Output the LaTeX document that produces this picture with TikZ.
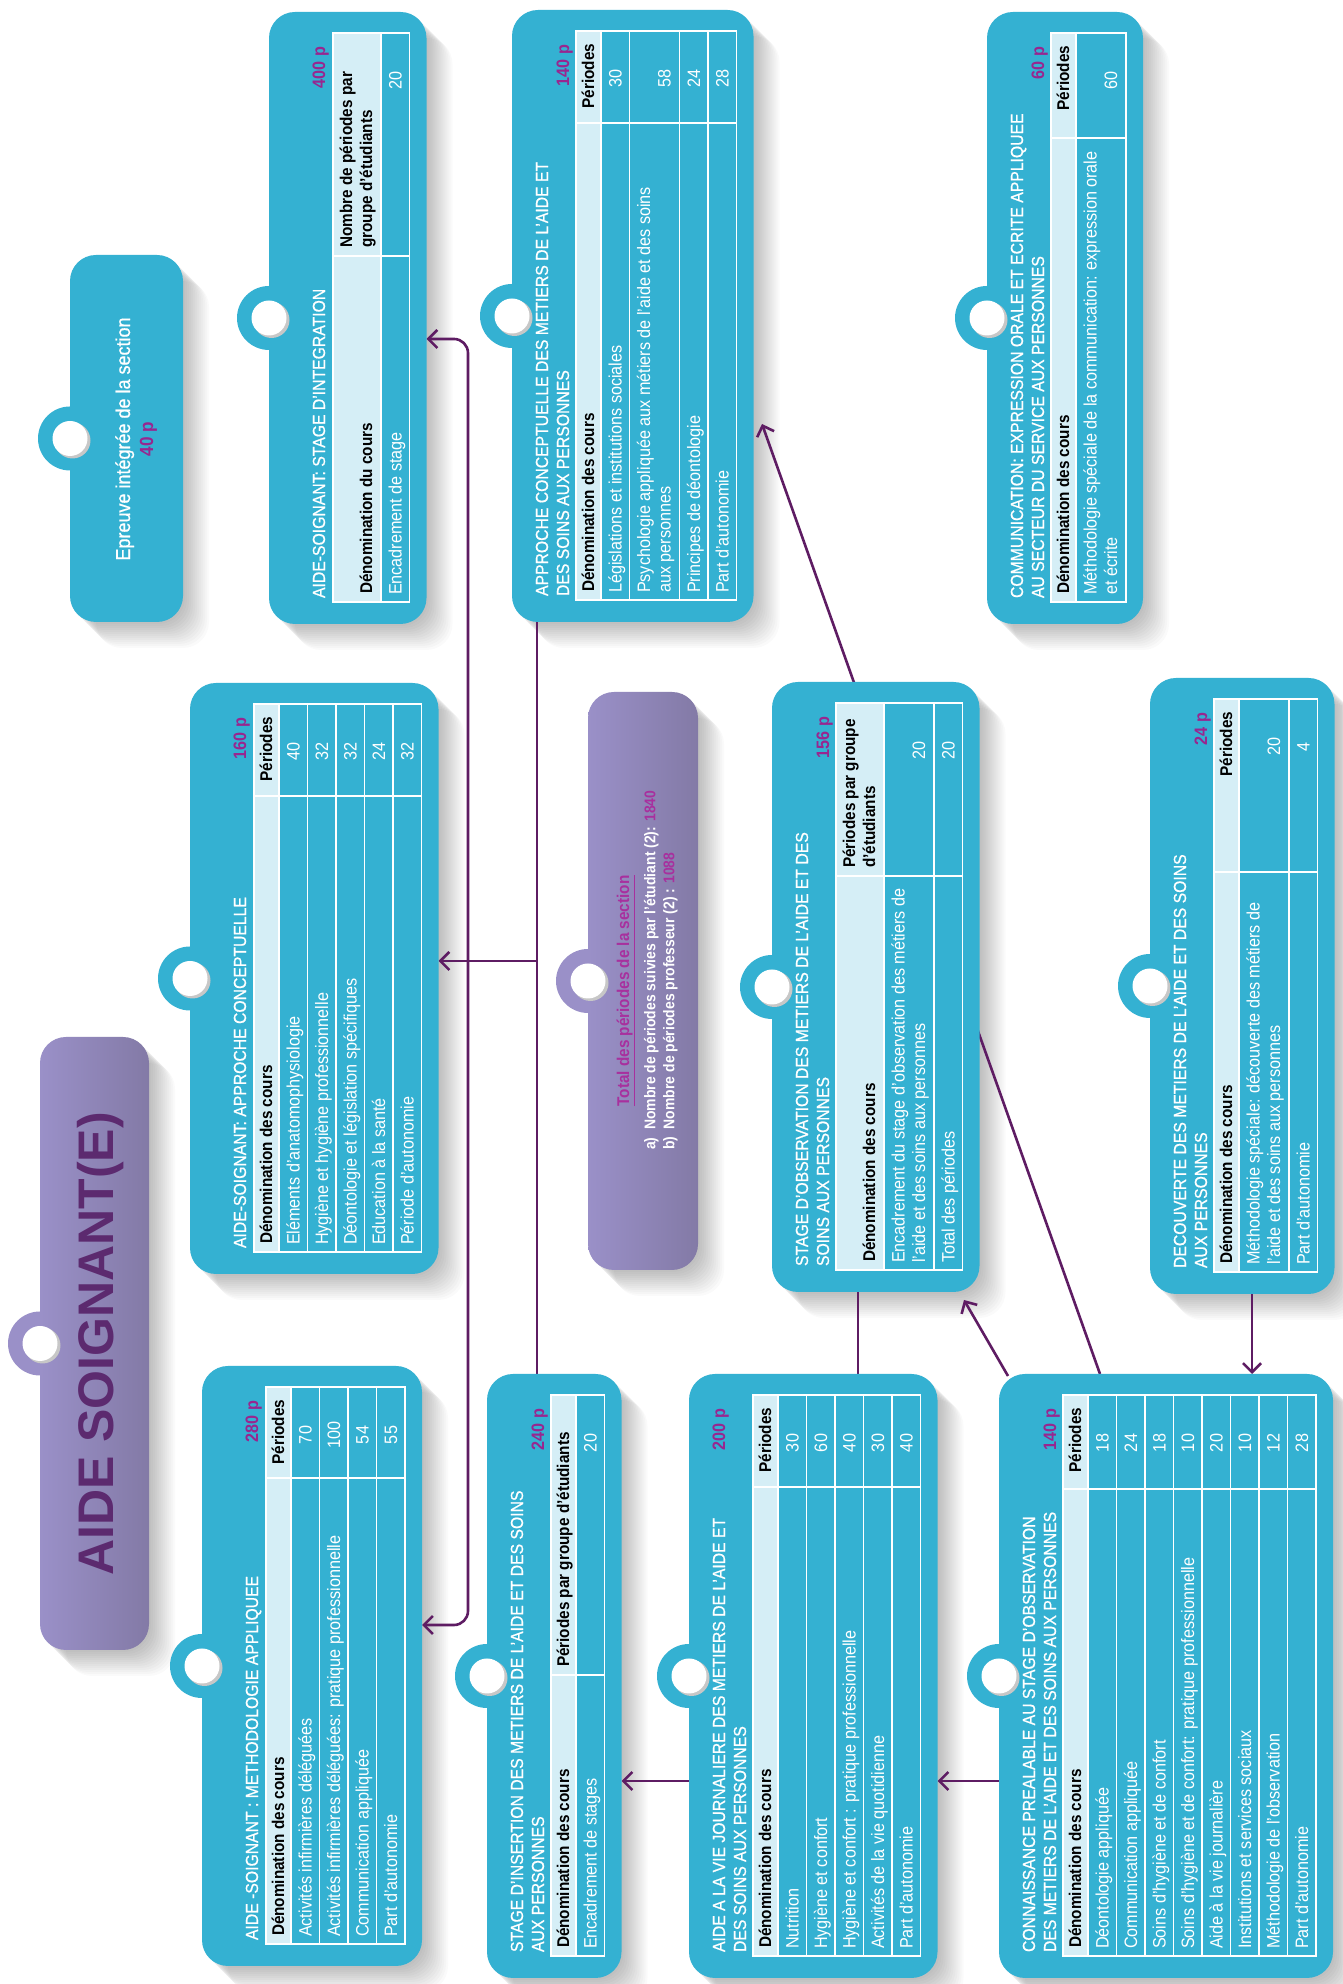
\documentclass[tikz,border=0pt]{standalone}
\usepackage{fontspec}
\setmainfont{Liberation Sans}[FakeStretch=0.9]
\newfontfamily\ttlfont{Liberation Sans}[FakeStretch=0.9,FakeBold=0.6]
\newfontfamily\bigfont{Liberation Sans}
\usetikzlibrary{arrows.meta}
\pgfdeclarelayer{bgwhite}
\pgfdeclarelayer{shadowl}
\pgfdeclarelayer{connl}
\pgfsetlayers{bgwhite,shadowl,connl,main}
\definecolor{cardc}{HTML}{34B1D2}
\definecolor{headc}{HTML}{D5EEF6}
\definecolor{linec}{HTML}{5E1C63}
\definecolor{magc}{HTML}{98268F}
\definecolor{totmag}{HTML}{A8309E}
\definecolor{ttlc}{HTML}{5C2A6F}
\definecolor{lavA}{HTML}{9A90C8}
\definecolor{lavB}{HTML}{837AA6}
\tikzset{
  ttl/.style={font=\ttlfont\fontsize{17.5}{22}\selectfont,text=white,inner sep=0pt,outer sep=0pt},
  bodytxt/.style={font=\fontsize{18}{20}\selectfont,text=white,inner sep=0pt,outer sep=0pt},
  hdrtxt/.style={font=\bfseries\fontsize{17}{20}\selectfont,text=black,inner sep=0pt,outer sep=0pt},
  plab/.style={font=\bfseries\fontsize{18}{20}\selectfont,text=magc,inner sep=0pt,outer sep=0pt},
  totxt/.style={font=\bfseries\fontsize{15.5}{19}\selectfont,text=white,inner sep=0pt,outer sep=0pt},
  gridline/.style={draw=white,line width=1.2pt},
  cline/.style={draw=linec,line width=2.6pt},
  barb/.tip={Straight Barb[length=9pt,width=18pt]},
}
\newcommand\mkCard[7]{%
  \begin{pgfonlayer}{shadowl}%
    \foreach \d in {2,4,...,26}{\fill[black,opacity=0.02,rounded corners=26pt] (#2-\d,#3+\d) rectangle (#4-\d,#5+\d);}%
  \end{pgfonlayer}%
  \pgfmathsetmacro\mx{(#2+#4)/2}%
  \fill[#7] (\mx,#3) circle (32);%
  \node[#6,rounded corners=26pt,minimum width={(#4-#2)*1pt},minimum height={(#5-#3)*1pt},inner sep=0pt,outer sep=0pt] (#1) at ({(#2+#4)/2},{(#3+#5)/2}) {};%
  \fill[black!22] (\mx-2,#3+2.5) circle (18);%
  \fill[white] (\mx,#3) circle (17.5);%
}
\newcommand\TabStart[4]{%
  \pgfmathsetmacro\TL{#1+22}\pgfmathsetmacro\TR{#2-21}\pgfmathsetmacro\TC{#2-21-#4}\pgfmathsetmacro\Ty{#3+64}\let\Ttop\Ty}
\newcommand\Ttl[3]{\node[ttl,anchor=base west] (#1) at (\TL+4,#2) {#3};}
\newcommand\Plab[3]{\node[plab,anchor=base east] (#1) at (\TR-14,#2) {#3};}
\newcommand\HdrP[3]{%
  \fill[headc] (\TL,\Ty) rectangle (\TR,\Ty+25);
  \node[hdrtxt,anchor=base west] (#1-ha) at (\TL+8,\Ty+18) {#2};
  \node[hdrtxt,anchor=base] (#1-hb) at (\TR-45,\Ty+18) {#3};
  \pgfmathsetmacro\Ty{\Ty+25}\draw[gridline] (\TL,\Ty) -- (\TR,\Ty);}
\newcommand\HdrW[3]{%
  \fill[headc] (\TL,\Ty) rectangle (\TR,\Ty+25);
  \node[hdrtxt,anchor=base west] (#1-ha) at (\TL+8,\Ty+18) {#2};
  \node[hdrtxt,anchor=base west] (#1-hb) at (\TC+8,\Ty+18) {#3};
  \pgfmathsetmacro\Ty{\Ty+25}\draw[gridline] (\TL,\Ty) -- (\TR,\Ty);}
\newcommand\HdrD[4]{%
  \fill[headc] (\TL,\Ty) rectangle (\TR,\Ty+48);
  \node[hdrtxt,anchor=base west] (#1-ha) at (\TL+8,\Ty+39) {#2};
  \node[hdrtxt,anchor=base west] (#1-hb) at (\TC+8,\Ty+19) {#3};
  \node[hdrtxt,anchor=base west] (#1-hc) at (\TC+8,\Ty+39) {#4};
  \pgfmathsetmacro\Ty{\Ty+48}\draw[gridline] (\TL,\Ty) -- (\TR,\Ty);}
\newcommand\RowS[3]{%
  \node[bodytxt,anchor=base west] (#1-a) at (\TL+7,\Ty+20.5) {#2};
  \node[bodytxt,anchor=base] (#1-b) at (\TR-48,\Ty+20.5) {#3};
  \pgfmathsetmacro\Ty{\Ty+28.5}\draw[gridline] (\TL,\Ty) -- (\TR,\Ty);}
\newcommand\RowD[4]{%
  \node[bodytxt,anchor=base west] (#1-a) at (\TL+7,\Ty+20.5) {#2};
  \node[bodytxt,anchor=base west] (#1-c) at (\TL+7,\Ty+41) {#3};
  \node[bodytxt,anchor=base] (#1-b) at (\TR-48,\Ty+41) {#4};
  \pgfmathsetmacro\Ty{\Ty+50}\draw[gridline] (\TL,\Ty) -- (\TR,\Ty);}
\newcommand\TabEnd{\draw[gridline] (\TL,\Ttop) rectangle (\TR,\Ty); \draw[gridline] (\TC,\Ttop) -- (\TC,\Ty);}
\begin{document}
\begin{tikzpicture}
\begin{scope}[x=1pt,y=-1pt,rotate=90,transform shape]
\useasboundingbox (0,0) rectangle (1984,1342);
\begin{pgfonlayer}{bgwhite}\fill[white] (0,0) rectangle (1984,1342);\end{pgfonlayer}

% title
\mkCard{ttlbox}{334}{40}{947}{149}{left color=lavA,right color=lavB}{lavA}
\node[font=\bigfont\bfseries\fontsize{50}{50}\selectfont,text=ttlc,anchor=base,inner sep=0pt] (ttl-t) at (640,113) {AIDE SOIGNANT(E)};

% methodologie appliquee
\mkCard{meth}{18}{202}{618}{422}{fill=cardc}{cardc}
\TabStart{18}{618}{202}{91}
\Ttl{meth-t}{258}{AIDE -SOIGNANT : METHODOLOGIE APPLIQUEE}
\Plab{meth-p}{258}{280 p}
\HdrP{meth}{Dénomination des cours}{Périodes}
\RowS{meth-r1}{Activités infirmières déléguées}{70}
\RowS{meth-r2}{Activités infirmières déléguées: pratique professionnelle}{100}
\RowS{meth-r3}{Communication appliquée}{54}
\RowS{meth-r4}{Part d’autonomie}{55}
\TabEnd

% approche conceptuelle
\mkCard{appc}{710}{190}{1301}{438.5}{fill=cardc}{cardc}
\TabStart{710}{1301}{190}{92}
\Ttl{appc-t}{246}{AIDE-SOIGNANT: APPROCHE CONCEPTUELLE}
\Plab{appc-p}{246}{160 p}
\HdrP{appc}{Dénomination des cours}{Périodes}
\RowS{appc-r1}{Eléments d’anatomophysiologie}{40}
\RowS{appc-r2}{Hygiène et hygiène professionnelle}{32}
\RowS{appc-r3}{Déontologie et législation spécifiques}{32}
\RowS{appc-r4}{Education à la santé}{24}
\RowS{appc-r5}{Période d’autonomie}{32}
\TabEnd

% epreuve
\mkCard{epr}{1362}{70}{1729}{183}{fill=cardc}{cardc}
\node[ttl,font=\ttlfont\fontsize{20}{22}\selectfont,anchor=base] (epr-t) at (1545,130) {Epreuve intégrée de la section};
\node[plab,font=\bfseries\fontsize{19}{20}\selectfont,anchor=base] (epr-p) at (1545,153) {40 p};

% stage d'insertion
\mkCard{ins}{6}{487}{610}{621.5}{fill=cardc}{cardc}
\TabStart{6}{610}{487}{280}
\Ttl{ins-t1}{523}{STAGE D’INSERTION DES METIERS DE L’AIDE ET DES SOINS}
\Ttl{ins-t2}{544}{AUX PERSONNES}
\Plab{ins-p}{544}{240 p}
\HdrW{ins}{Dénomination des cours}{Périodes par groupe d’étudiants}
\RowS{ins-r1}{Encadrement de stages}{20}
\TabEnd

% total
\mkCard{tot}{714}{588}{1292}{698}{left color=lavA,right color=lavB}{lavA}
\node[totxt,font=\bfseries\fontsize{17}{19}\selectfont,text=totmag,anchor=base] (tot-h) at (993,629) {\underline{Total des périodes de la section}};
\node[totxt,anchor=north west,align=left] (tot-b) at (834,644) {a)\ \ Nombre de périodes suivies par l’étudiant (2): \textcolor{totmag}{1840}\\b)\ \ Nombre de périodes professeur (2) : \textcolor{totmag}{1088}};

% stage d'integration
\mkCard{integ}{1360}{269}{1972}{426.5}{fill=cardc}{cardc}
\TabStart{1360}{1972}{269}{223}
\Ttl{integ-t}{325}{AIDE-SOIGNANT: STAGE D’INTEGRATION}
\Plab{integ-p}{325}{400 p}
\HdrD{integ}{Dénomination du cours}{Nombre de périodes par}{groupe d’étudiants}
\RowS{integ-r1}{Encadrement de stage}{20}
\TabEnd

% approche conceptuelle des metiers
\mkCard{appm}{1362}{512}{1974}{753.5}{fill=cardc}{cardc}
\TabStart{1362}{1974}{512}{92}
\Ttl{appm-t1}{548}{APPROCHE CONCEPTUELLE DES METIERS DE L’AIDE ET}
\Ttl{appm-t2}{569}{DES SOINS AUX PERSONNES}
\Plab{appm-p}{569}{140 p}
\HdrP{appm}{Dénomination des cours}{Périodes}
\RowS{appm-r1}{Législations et institutions sociales}{30}
\RowD{appm-r2}{Psychologie appliquée aux métiers de l'aide et des soins}{aux personnes}{58}
\RowS{appm-r3}{Principes de déontologie}{24}
\RowS{appm-r4}{Part d’autonomie}{28}
\TabEnd

% aide a la vie journaliere
\mkCard{avj}{6}{689}{610}{937.5}{fill=cardc}{cardc}
\TabStart{6}{610}{689}{92}
\Ttl{avj-t1}{725}{AIDE A LA VIE JOURNALIERE DES METIERS DE L’AIDE ET}
\Ttl{avj-t2}{746}{DES SOINS AUX PERSONNES}
\Plab{avj-p}{725}{200 p}
\HdrP{avj}{Dénomination des cours}{Périodes}
\RowS{avj-r1}{Nutrition}{30}
\RowS{avj-r2}{Hygiène et confort}{60}
\RowS{avj-r3}{Hygiène et confort : pratique professionnelle}{40}
\RowS{avj-r4}{Activités de la vie quotidienne}{30}
\RowS{avj-r5}{Part d’autonomie}{40}
\TabEnd

% stage d'observation
\mkCard{obs}{692}{772}{1302}{979.5}{fill=cardc}{cardc}
\TabStart{692}{1302}{772}{173}
\Ttl{obs-t1}{808}{STAGE D’OBSERVATION DES METIERS DE L’AIDE ET DES}
\Ttl{obs-t2}{829}{SOINS AUX PERSONNES}
\Plab{obs-p}{829}{156 p}
\HdrD{obs}{Dénomination des cours}{Périodes par groupe}{d’étudiants}
\RowD{obs-r1}{Encadrement du stage d’observation des métiers de}{l’aide et des soins aux personnes}{20}
\RowS{obs-r2}{Total des périodes}{20}
\TabEnd

% communication
\mkCard{comm}{1360}{987}{1972}{1143}{fill=cardc}{cardc}
\TabStart{1360}{1972}{987}{105}
\Ttl{comm-t1}{1023}{COMMUNICATION: EXPRESSION ORALE ET ECRITE APPLIQUEE}
\Ttl{comm-t2}{1044}{AU SECTEUR DU SERVICE AUX PERSONNES}
\Plab{comm-p}{1044}{60 p}
\HdrP{comm}{Dénomination des cours}{Périodes}
\RowD{comm-r1}{Méthodologie spéciale de la communication: expression orale}{et écrite}{60}
\TabEnd

% connaissance prealable
\mkCard{prea}{6}{999}{610}{1333}{fill=cardc}{cardc}
\TabStart{6}{610}{999}{94}
\Ttl{prea-t1}{1035}{CONNAISSANCE PREALABLE AU STAGE D’OBSERVATION}
\Ttl{prea-t2}{1056}{DES METIERS DE L’AIDE ET DES SOINS AUX PERSONNES}
\Plab{prea-p}{1056}{140 p}
\HdrP{prea}{Dénomination des cours}{Périodes}
\RowS{prea-r1}{Déontologie appliquée}{18}
\RowS{prea-r2}{Communication appliquée}{24}
\RowS{prea-r3}{Soins d’hygiène et de confort}{18}
\RowS{prea-r4}{Soins d’hygiène et de confort: pratique professionnelle}{10}
\RowS{prea-r5}{Aide à la vie journalière}{20}
\RowS{prea-r6}{Institutions et services sociaux}{10}
\RowS{prea-r7}{Méthodologie de l’observation}{12}
\RowS{prea-r8}{Part d’autonomie}{28}
\TabEnd

% decouverte
\mkCard{dec}{690}{1150}{1306}{1334.5}{fill=cardc}{cardc}
\TabStart{690}{1306}{1150}{173}
\Ttl{dec-t1}{1186}{DECOUVERTE DES METIERS DE L’AIDE ET DES SOINS}
\Ttl{dec-t2}{1207}{AUX PERSONNES}
\Plab{dec-p}{1207}{24 p}
\HdrP{dec}{Dénomination des cours}{Périodes}
\RowD{dec-r1}{Méthodologie spéciale: découverte des métiers de}{l’aide et des soins aux personnes}{20}
\RowS{dec-r2}{Part d’autonomie}{4}
\TabEnd

% connectors
\begin{pgfonlayer}{connl}
\draw[cline] (appm.west |- 0,537) -- (ins.east |- 0,537);
\coordinate (jct) at (1023,537);
\draw[cline,-barb] (jct) -- (jct |- appc.south);
\coordinate (r1) at (1645,468);
\coordinate (r2) at (359,468);
\draw[cline,rounded corners=14pt,barb-barb] (r1 |- integ.south) -- (r1) -- (r2) -- (r2 |- meth.south);
\draw[cline,-barb] (203,0 |- avj.north) -- (203,0 |- ins.south);
\draw[cline,-barb] (203,0 |- prea.north) -- (203,0 |- avj.south);
\draw[cline] (obs.west |- 0,858) -- (avj.east |- 0,858);
\coordinate (d1s) at (608,1008);
\coordinate (d1e) at (684,964);
\draw[cline,-barb] (d1s) -- (d1e);
\coordinate (d2e) at (1560,762);
\draw[cline,-barb] (prea.east |- 0,1100) -- (d2e);
\draw[cline,-barb] (dec.west |- 0,1252) -- (prea.east |- 0,1252);
\end{pgfonlayer}
\end{scope}
\end{tikzpicture}
\end{document}
